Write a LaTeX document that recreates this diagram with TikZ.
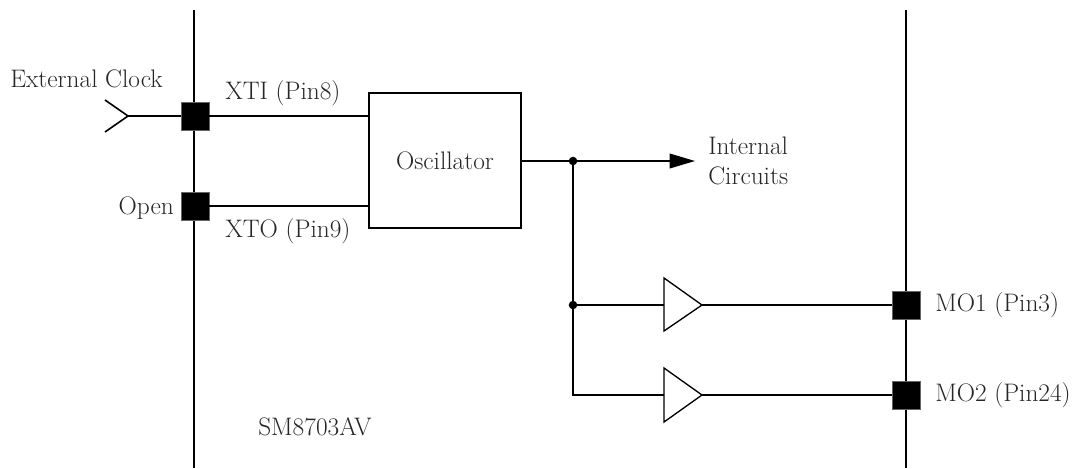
\documentclass[tikz,border=0pt]{standalone}
\usetikzlibrary{arrows.meta}
\begin{document}
\begin{tikzpicture}[x=0.75pt,y=-0.75pt,
  wire/.style={line width=1.2pt},
  pin/.style={draw=black!60,fill=black,minimum size=21pt,inner sep=0pt,line width=0.5pt},
  lbl/.style={font=\fontsize{19}{23}\selectfont,inner sep=0pt,text=black!85},
  box/.style={draw,line width=1.2pt,minimum width=114pt,minimum height=101pt,inner sep=0pt}]
\useasboundingbox (0,0) rectangle (1084,468);
% chip borders
\coordinate (lt) at (194,10); \coordinate (lb) at (194,468);
\coordinate (rt) at (906,10); \coordinate (rb) at (906,468);
\draw[wire] (lt) -- (lb);
\draw[wire] (rt) -- (rb);
% pins
\node[pin] (xti) at (195,116) {};
\node[pin] (xto) at (195,206) {};
\node[pin] (mo1) at (906,305) {};
\node[pin] (mo2) at (906,395) {};
% oscillator
\node[box] (osc) at (445,160.5) {};
\node[lbl] at (osc.center) {Oscillator};
% external clock input
\coordinate (ck) at (128,116);
\coordinate (cka) at (105,100);
\coordinate (ckb) at (105,132);
\draw[wire] (cka) -- (ck) -- (ckb);
\draw[wire] (ck) -- (xti.west);
\draw[wire] (xti.east) -- (osc.west |- xti);
\draw[wire] (xto.east) -- (osc.west |- xto);
% output
\coordinate (dot1) at (573,161);
\coordinate (dot2) at (573,305);
\coordinate (ic) at (695,161);
\draw[wire,-{Triangle[length=19pt,width=11pt]}] (osc.east |- dot1) -- (ic);
\fill (dot1) circle (3.2pt);
\fill (dot2) circle (3.2pt);
% buffers
\coordinate (b1in) at (664,305); \coordinate (b1out) at (702,305);
\coordinate (b2in) at (664,395); \coordinate (b2out) at (702,395);
\draw[line width=1pt] (664,278) -- (b1out) -- (664,331) -- cycle;
\draw[line width=1pt] (664,368) -- (b2out) -- (664,422) -- cycle;
\draw[wire] (dot2) -- (b1in);
\draw[wire] (dot1) |- (b2in);
\draw[wire] (b1out) -- (mo1.west);
\draw[wire] (b2out) -- (mo2.west);
% labels
\node[lbl,anchor=west] (t1) at (10,79) {External Clock};
\node[lbl,anchor=west] (t2) at (225,93) {XTI (Pin8)};
\node[lbl,anchor=east] (t3) at (174,208) {Open};
\node[lbl,anchor=west] (t4) at (225,231) {XTO (Pin9)};
\node[lbl,anchor=west,align=left] (t5) at (708,161) {Internal\\Circuits};
\node[lbl,anchor=west] (t6) at (935,305) {MO1 (Pin3)};
\node[lbl,anchor=west] (t7) at (935,395) {MO2 (Pin24)};
\node[lbl,anchor=west] (t8) at (258,427) {SM8703AV};
\end{tikzpicture}
\end{document}
